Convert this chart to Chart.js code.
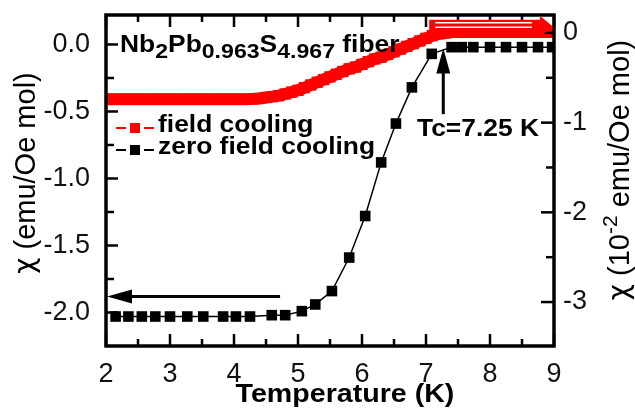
<!DOCTYPE html>
<html>
<head>
<meta charset="utf-8">
<script src="https://cdn.jsdelivr.net/npm/chart.js@4.4.0/dist/chart.umd.min.js"></script>
<style>
  html, body { margin: 0; padding: 0; background: #fff; }
  #wrap { width: 635px; height: 409px; }
</style>
</head>
<body>
<div id="wrap"><canvas id="chart" width="635" height="409"></canvas></div>
<script>
// Zero field cooling (left axis, emu/Oe mol)
const zfcTemp = [2.15, 2.35, 2.56, 2.77, 3.0, 3.27, 3.52, 3.83, 4.03, 4.25, 4.59, 4.8, 5.06, 5.27,
                 5.53, 5.8, 6.05, 6.3, 6.53, 6.78, 7.09, 7.4, 7.56, 7.74, 8.0, 8.25, 8.5, 8.75, 8.97];
const zfcChi = [-2.03, -2.03, -2.03, -2.03, -2.03, -2.03, -2.03, -2.03, -2.03, -2.03, -2.02, -2.02, -1.99, -1.94,
                -1.84, -1.59, -1.28, -0.88, -0.59, -0.32, -0.07, -0.02, -0.02, -0.02, -0.02, -0.02, -0.02, -0.02, -0.02];

// Field cooling (right axis, 10^-2 emu/Oe mol)
const fcTemp = [2.0, 2.1, 2.2, 2.3, 2.4, 2.5, 2.6, 2.7, 2.8, 2.9, 3.0, 3.1, 3.2, 3.3, 3.4, 3.5, 3.6, 3.7, 3.8, 3.9,
                4.0, 4.1, 4.2, 4.3, 4.4, 4.5, 4.6, 4.7, 4.8, 4.9, 5.0, 5.1, 5.2, 5.3, 5.4, 5.5, 5.6, 5.7, 5.8, 5.9,
                6.0, 6.1, 6.2, 6.3, 6.4, 6.5, 6.6, 6.7, 6.8, 6.9, 7.0, 7.1, 7.2, 7.3, 7.4, 7.5, 7.6, 7.7, 7.8, 7.9,
                8.0, 8.1, 8.2, 8.3, 8.4, 8.5, 8.6, 8.7, 8.8, 8.9, 9.0];
const fcChi = [-0.74, -0.74, -0.74, -0.74, -0.74, -0.74, -0.74, -0.74, -0.74, -0.74, -0.74, -0.74, -0.74, -0.74, -0.74, -0.74, -0.74, -0.74, -0.74, -0.74,
               -0.74, -0.74, -0.74, -0.735, -0.73, -0.72, -0.71, -0.70, -0.68, -0.66, -0.64, -0.61, -0.58, -0.55, -0.52, -0.49, -0.46, -0.43, -0.40, -0.38,
               -0.35, -0.32, -0.29, -0.27, -0.24, -0.21, -0.18, -0.15, -0.12, -0.09, -0.06, -0.03, -0.01, 0.0, 0.01, 0.01, 0.01, 0.01, 0.01, 0.01,
               0.01, 0.01, 0.01, 0.01, 0.01, 0.01, 0.01, 0.01, 0.01, 0.01, 0.01];

const xTicks = [2, 3, 4, 5, 6, 7, 8, 9];
const leftTicks = [-2.0, -1.5, -1.0, -0.5, 0.0];
const rightTicks = [-3, -2, -1, 0];

const FONT = '"Liberation Sans", Arial, sans-serif';
const CHI_FONT = '"DejaVu Sans", sans-serif';

// text squeezed/stretched horizontally like the original figure
function drawText(ctx, str, x, y, font, sx) {
    ctx.save();
    ctx.translate(x, y);
    ctx.scale(sx, 1);
    ctx.font = font;
    ctx.fillText(str, 0, 0);
    ctx.restore();
    ctx.font = font;
    return ctx.measureText(str).width * sx;
}

function arrowHead(ctx, tx, ty, bx1, by1, bx2, by2) {
    ctx.beginPath();
    ctx.moveTo(tx, ty);
    ctx.lineTo(bx1, by1);
    ctx.lineTo(bx2, by2);
    ctx.closePath();
    ctx.fill();
}

// rotated axis title made of [text, font, yOffset] parts, centred at (cx, cy)
function rotatedTitle(ctx, parts, cx, cy) {
    ctx.save();
    ctx.translate(cx, cy);
    ctx.rotate(-Math.PI / 2);
    ctx.textBaseline = 'middle';
    ctx.textAlign = 'left';
    let total = 0;
    parts.forEach(p => { ctx.font = p[1]; total += ctx.measureText(p[0]).width; });
    let x = -total / 2;
    parts.forEach(p => {
        ctx.font = p[1];
        ctx.fillText(p[0], x, p[2]);
        x += ctx.measureText(p[0]).width;
    });
    ctx.restore();
}

const decorPlugin = {
    id: 'decor',
    afterDatasetsDraw(chart) {
        const ctx = chart.ctx;
        const a = chart.chartArea;
        const sx = chart.scales.x, sy = chart.scales.y, sy2 = chart.scales.y2;
        ctx.save();
        ctx.strokeStyle = '#000';
        ctx.fillStyle = '#000';

        // inward ticks
        ctx.lineWidth = 2.5;
        const tick = (x1, y1, x2, y2) => { ctx.beginPath(); ctx.moveTo(x1, y1); ctx.lineTo(x2, y2); ctx.stroke(); };
        xTicks.forEach((v, i) => {
            const px = sx.getPixelForValue(v);
            tick(px, a.bottom, px, a.bottom - 12);
            tick(px, a.top, px, a.top + 12);
            if (i < xTicks.length - 1) {
                const pm = sx.getPixelForValue(v + 0.5);
                tick(pm, a.bottom, pm, a.bottom - 7);
                tick(pm, a.top, pm, a.top + 7);
            }
        });
        leftTicks.forEach(v => {
            const py = sy.getPixelForValue(v);
            tick(a.left, py, a.left + 12, py);
            const pm = sy.getPixelForValue(v - 0.25);
            if (pm < a.bottom) tick(a.left, pm, a.left + 8, pm);
        });
        rightTicks.forEach(v => {
            const py = sy2.getPixelForValue(v);
            tick(a.right, py, a.right - 13, py);
            const pm = sy2.getPixelForValue(v - 0.5);
            if (pm < a.bottom) tick(a.right, pm, a.right - 8, pm);
        });

        // frame
        ctx.lineWidth = 3.5;
        ctx.strokeRect(a.left, a.top, a.right - a.left, a.bottom - a.top);

        // black arrow pointing to left axis
        const yb = sy.getPixelForValue(-1.88);
        const xb0 = sx.getPixelForValue(2.0) + 1;
        const xb1 = sx.getPixelForValue(4.72);
        ctx.lineWidth = 3;
        tick(xb0 + 20, yb, xb1, yb);
        arrowHead(ctx, xb0, yb, xb0 + 25, yb - 7, xb0 + 25, yb + 7);

        // Tc arrow
        const xt = sx.getPixelForValue(7.27);
        const yt0 = sy.getPixelForValue(-0.52);
        const yt1 = sy.getPixelForValue(-0.03);
        tick(xt, yt0, xt, yt1 + 20);
        arrowHead(ctx, xt, yt1, xt - 7, yt1 + 25, xt + 7, yt1 + 25);

        // red arrow pointing to right axis
        const yr = sy2.getPixelForValue(0.08);
        const xr0 = sx.getPixelForValue(7.05);
        const xr1 = sx.getPixelForValue(8.78);
        ctx.fillStyle = '#ff0000';
        ctx.fillRect(xr0, yr - 6, xr1 - xr0, 12);
        arrowHead(ctx, a.right - 1, yr + 1, xr1, yr - 10, xr1, yr + 11);
        ctx.strokeStyle = '#fff';
        ctx.lineWidth = 1.3;
        tick(xr0 + 6, yr - 3, xr1 - 8, yr - 3);
        tick(xr0 + 6, yr + 1.5, xr1 - 8, yr + 1.5);

        // texts
        ctx.fillStyle = '#000';
        ctx.textBaseline = 'alphabetic';
        ctx.textAlign = 'left';
        const segs = [['Nb', 0], ['2', 1], ['Pb', 0], ['0.963', 1], ['S', 0], ['4.967', 1], [' fiber', 0]];
        let tx = 120;
        segs.forEach(([s, sub]) => {
            tx += drawText(ctx, s, tx, sub ? 58 : 52, sub ? 'bold 21px ' + FONT : 'bold 24px ' + FONT, 1.1);
        });

        drawText(ctx, 'Tc=7.25 K', 417, 136, 'bold 24px ' + FONT, 1.1);

        // legend
        const rows = [128, 150];
        chart.data.datasets.forEach((ds, i) => {
            const y = rows[i];
            ctx.strokeStyle = ds.borderColor;
            ctx.fillStyle = ds.pointBackgroundColor;
            ctx.lineWidth = 2;
            tick(116, y, 126, y);
            tick(144, y, 154, y);
            ctx.fillRect(130, y - 5, 10, 10);
            ctx.fillStyle = '#000';
            drawText(ctx, ds.label, 158, y + 4, 'bold 24px ' + FONT, 1.1);
        });

        // x title
        ctx.textAlign = 'center';
        drawText(ctx, 'Temperature (K)', 345, 402, 'bold 26px ' + FONT, 1.1);

        // y titles
        rotatedTitle(ctx, [['\u03c7', '28px ' + CHI_FONT, 0], [' (emu/Oe mol)', '29px ' + FONT, 0]], 27, 173);
        rotatedTitle(ctx, [['\u03c7', '28px ' + CHI_FONT, 0], [' (10', '29px ' + FONT, 0], ['-2', '21px ' + FONT, -10],
                           [' emu/Oe mol)', '29px ' + FONT, 0]], 621, 170);

        ctx.restore();
    }
};

const tickFont = { family: FONT, size: 27 };
const noPad = s => { s.paddingTop = 0; s.paddingBottom = 0; s.paddingLeft = 0; s.paddingRight = 0; };

new Chart(document.getElementById('chart').getContext('2d'), {
    type: 'line',
    data: {
        datasets: [
            {
                label: 'field cooling',
                data: fcTemp.map((t, i) => ({ x: t, y: fcChi[i] })),
                yAxisID: 'y2',
                borderColor: '#ff0000',
                backgroundColor: '#ff0000',
                pointBackgroundColor: '#ff0000',
                pointBorderWidth: 0,
                borderWidth: 12,
                pointStyle: 'rect',
                pointRadius: 8,
                clip: 0,
                order: 2
            },
            {
                label: 'zero field cooling',
                data: zfcTemp.map((t, i) => ({ x: t, y: zfcChi[i] })),
                yAxisID: 'y',
                borderColor: '#000',
                backgroundColor: '#000',
                pointBackgroundColor: '#000',
                pointBorderWidth: 0,
                borderWidth: 1.5,
                pointStyle: 'rect',
                pointRadius: 7.5,
                clip: 0,
                order: 1
            }
        ]
    },
    options: {
        responsive: false,
        animation: false,
        devicePixelRatio: 1,
        layout: { padding: { top: 15, left: 0, right: 0, bottom: 0 } },
        plugins: { legend: { display: false }, tooltip: { enabled: false } },
        scales: {
            x: {
                type: 'linear',
                min: 2,
                max: 9,
                afterBuildTicks: s => { s.ticks = xTicks.map(v => ({ value: v })); },
                afterFit: s => { s.height = 63; noPad(s); },
                grid: { display: false, drawTicks: false },
                border: { display: false },
                ticks: { font: tickFont, color: '#111', padding: 12, autoSkip: false, maxRotation: 0, callback: v => String(v) }
            },
            y: {
                position: 'left',
                min: -2.25,
                max: 0.22,
                afterBuildTicks: s => { s.ticks = leftTicks.map(v => ({ value: v })); },
                afterFit: s => { s.width = 106; noPad(s); },
                grid: { display: false, drawTicks: false },
                border: { display: false },
                ticks: { font: tickFont, color: '#111', padding: 16, autoSkip: false, callback: v => v.toFixed(1) }
            },
            y2: {
                position: 'right',
                min: -3.49,
                max: 0.2,
                afterBuildTicks: s => { s.ticks = rightTicks.map(v => ({ value: v })); },
                afterFit: s => { s.width = 81; noPad(s); },
                grid: { display: false, drawTicks: false },
                border: { display: false },
                ticks: { font: tickFont, color: '#111', padding: 9, autoSkip: false, callback: v => String(v) }
            }
        }
    },
    plugins: [decorPlugin]
});
</script>
</body>
</html>
